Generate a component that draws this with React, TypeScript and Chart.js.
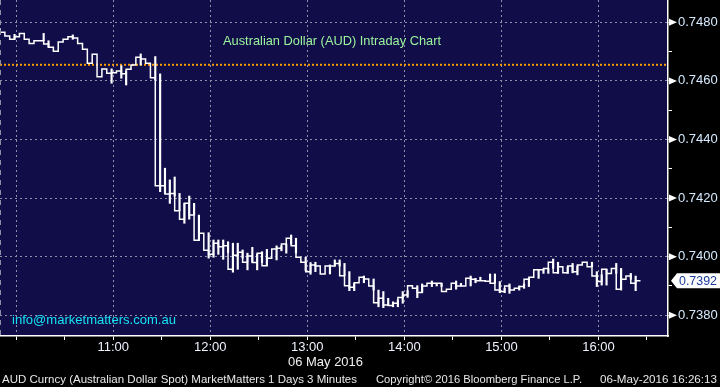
import React, { useEffect, useRef } from 'react';
import { Chart, registerables } from 'chart.js';

Chart.register(...registerables);

// ---- data ----
const firstBarMinute = 590; // 09:50, minutes since midnight
const barMinutes = 3;

const closes = [
  0.74780, 0.74766, 0.74753, 0.74742, 0.74751, 0.74762, 0.74742, 0.74728, 0.74737, 0.74737,
  0.74726, 0.74715, 0.74701, 0.74733, 0.74742, 0.74751, 0.74746, 0.74728, 0.74708, 0.74660,
  0.74691, 0.74614, 0.74641, 0.74626, 0.74628, 0.74634, 0.74624, 0.74640, 0.74654, 0.74681,
  0.74675, 0.74660, 0.74611, 0.74242, 0.74242, 0.74214, 0.74216, 0.74157, 0.74128, 0.74182,
  0.74142, 0.74056, 0.74080, 0.74022, 0.74008, 0.74046, 0.74034, 0.74037, 0.73957, 0.74005,
  0.74015, 0.73981, 0.74002, 0.73980, 0.74012, 0.73969, 0.73995, 0.74026, 0.74029, 0.74043,
  0.74063, 0.74037, 0.73998, 0.73981, 0.73949, 0.73972, 0.73968, 0.73941, 0.73968, 0.73968,
  0.73977, 0.73935, 0.73901, 0.73896, 0.73911, 0.73930, 0.73924, 0.73900, 0.73843, 0.73858,
  0.73835, 0.73833, 0.73841, 0.73861, 0.73869, 0.73901, 0.73892, 0.73878, 0.73900, 0.73909,
  0.73909, 0.73909, 0.73881, 0.73889, 0.73909, 0.73900, 0.73900, 0.73926, 0.73923, 0.73918,
  0.73918, 0.73916, 0.73909, 0.73886, 0.73881, 0.73900, 0.73886, 0.73892, 0.73898, 0.73923,
  0.73930, 0.73955, 0.73955, 0.73960, 0.73981, 0.73945, 0.73966, 0.73945, 0.73968, 0.73949,
  0.73972, 0.73981, 0.73966, 0.73934, 0.73915, 0.73957, 0.73943, 0.73960, 0.73889, 0.73923,
  0.73934, 0.73909, 0.73918,
];

const wickIndex = [
  3, 9, 10, 15, 23, 25, 26, 29, 32,
  33, 34, 35, 36, 37, 38, 39, 40, 41,
  43, 44, 45, 46, 47, 48, 49, 50, 51, 52, 53, 54, 55,
  57, 58, 59, 60, 61, 63, 64, 65,
  68, 69, 70, 71, 72, 73, 75, 77, 78, 79, 80, 81, 82, 83, 84,
  86, 87, 89, 90, 91, 94, 95, 97, 98, 99,
  101, 102, 103, 104, 105, 107, 108, 109,
  111, 112, 113, 114, 115, 117, 118, 119,
  122, 123, 124, 125, 127, 128, 130, 131,
];
const wickHigh = [
  0.74759, 0.74762, 0.74737, 0.74757, 0.74641, 0.74652, 0.74634, 0.74692, 0.74683,
  0.74624, 0.74302, 0.74262, 0.74272, 0.74216, 0.74182, 0.74207, 0.74182, 0.74142,
  0.74082, 0.74057, 0.74057, 0.74057, 0.74051, 0.74046, 0.74046, 0.74023, 0.74012, 0.74032, 0.74009, 0.74017, 0.74025,
  0.74037, 0.74037, 0.74043, 0.74074, 0.74063, 0.73998, 0.73980, 0.73981,
  0.73972, 0.73989, 0.73989, 0.73977, 0.73949, 0.73909, 0.73934, 0.73924, 0.73886, 0.73881, 0.73858, 0.73846, 0.73852, 0.73881, 0.73884,
  0.73901, 0.73907, 0.73917, 0.73909, 0.73909, 0.73917, 0.73909, 0.73934, 0.73926, 0.73930,
  0.73941, 0.73941, 0.73915, 0.73892, 0.73907, 0.73900, 0.73907, 0.73926,
  0.73957, 0.73957, 0.73960, 0.73992, 0.73981, 0.73966, 0.73977, 0.73968,
  0.73981, 0.73949, 0.73938, 0.73957, 0.73977, 0.73960, 0.73943, 0.73934,
];
const wickLow = [
  0.74742, 0.74737, 0.74715, 0.74742, 0.74592, 0.74609, 0.74586, 0.74654, 0.74603,
  0.74222, 0.74216, 0.74182, 0.74207, 0.74157, 0.74114, 0.74128, 0.74142, 0.74055,
  0.73995, 0.73998, 0.74008, 0.73991, 0.74014, 0.73947, 0.73957, 0.73995, 0.73955, 0.73981, 0.73955, 0.73980, 0.73969,
  0.73989, 0.74020, 0.74012, 0.74043, 0.74012, 0.73952, 0.73940, 0.73949,
  0.73941, 0.73968, 0.73968, 0.73935, 0.73884, 0.73884, 0.73911, 0.73886, 0.73829, 0.73826, 0.73835, 0.73829, 0.73829, 0.73841, 0.73861,
  0.73860, 0.73878, 0.73898, 0.73900, 0.73898, 0.73889, 0.73900, 0.73900, 0.73911, 0.73918,
  0.73916, 0.73909, 0.73877, 0.73877, 0.73875, 0.73886, 0.73892, 0.73898,
  0.73926, 0.73943, 0.73943, 0.73960, 0.73943, 0.73943, 0.73945, 0.73938,
  0.73966, 0.73898, 0.73903, 0.73903, 0.73943, 0.73886, 0.73923, 0.73884,
];

const refLevel = 0.74655;
const xMin = 590;
const xMax = 1003;
const yMin = 0.737293;
const yMax = 0.748761;

const titleText = 'Australian Dollar (AUD) Intraday Chart';
const emailText = 'info@marketmatters.com.au';
const dateText = '06 May 2016';
const footerLeft = 'AUD Curncy (Australian Dollar Spot) MarketMatters 1 Days 3 Minutes';
const footerMid = 'Copyright\u00A9 2016 Bloomberg Finance L.P.';
const footerRight = '06-May-2016 16:26:13';

const FONT = '"Liberation Sans", Arial, sans-serif';
const PLOT_BG = '#100d49';
const GRID = '#8e8ea6';

function fitText(
  ctx: CanvasRenderingContext2D,
  text: string,
  x: number,
  y: number,
  width: number,
  size: number,
  color: string
) {
  ctx.save();
  ctx.font = `${size}px ${FONT}`;
  ctx.fillStyle = color;
  ctx.textBaseline = 'middle';
  ctx.textAlign = 'left';
  const w = ctx.measureText(text).width || 1;
  ctx.translate(x, y);
  ctx.scale(width / w, 1);
  ctx.fillText(text, 0, 0);
  ctx.restore();
}

const decorPlugin = {
  id: 'decor',
  beforeDraw(chart: any) {
    const { ctx, chartArea } = chart;
    ctx.save();
    ctx.fillStyle = '#000000';
    ctx.fillRect(0, 0, chart.width, chart.height);
    ctx.fillStyle = PLOT_BG;
    ctx.fillRect(chartArea.left, chartArea.top, chartArea.right - chartArea.left, chartArea.bottom - chartArea.top);
    ctx.restore();
  },
  afterDraw(chart: any) {
    const { ctx, chartArea } = chart;
    const ys = chart.scales.y;
    ctx.save();
    // left plot edge dashed
    ctx.strokeStyle = GRID;
    ctx.lineWidth = 1;
    ctx.setLineDash([5, 5]);
    ctx.beginPath();
    ctx.moveTo(chartArea.left + 0.5, chartArea.top);
    ctx.lineTo(chartArea.left + 0.5, chartArea.bottom);
    ctx.stroke();
    ctx.setLineDash([]);

    // arrows at labelled y ticks
    ctx.fillStyle = '#ffffff';
    ys.ticks.forEach((t: any) => {
      if (Math.round(t.value * 1000) % 2 !== 0) return;
      const py = ys.getPixelForValue(t.value);
      ctx.beginPath();
      ctx.moveTo(chartArea.right + 1, py - 3.5);
      ctx.lineTo(chartArea.right + 9, py);
      ctx.lineTo(chartArea.right + 1, py + 3.5);
      ctx.closePath();
      ctx.fill();
    });

    // last price box
    const last = closes[closes.length - 1];
    const ly = ys.getPixelForValue(last);
    const bx = chartArea.right + 3;
    ctx.fillStyle = '#ffffff';
    ctx.beginPath();
    ctx.moveTo(bx, ly);
    ctx.lineTo(bx + 6, ly - 7.5);
    ctx.lineTo(720, ly - 7.5);
    ctx.lineTo(720, ly + 7.5);
    ctx.lineTo(bx + 6, ly + 7.5);
    ctx.closePath();
    ctx.fill();
    ctx.restore();
    fitText(ctx, last.toFixed(4), 679, ly + 0.5, 38, 13, '#1a3a9c');

    // texts
    fitText(ctx, titleText, 223, 41, 218, 13, '#9cf59c');
    fitText(ctx, emailText, 12, 320, 164, 13, '#14e4f4');
    fitText(ctx, dateText, 288, 362, 75, 13, '#f0f0f0');
    fitText(ctx, footerLeft, 2, 380, 355, 11, '#e8e8e8');
    fitText(ctx, footerMid, 376, 380, 206, 11, '#e8e8e8');
    fitText(ctx, footerRight, 600, 380, 117, 11, '#e8e8e8');
  },
};

function pad2(n: number) {
  return n < 10 ? '0' + n : '' + n;
}

export default function App() {
  const ref = useRef<HTMLCanvasElement | null>(null);

  useEffect(() => {
    if (!ref.current) return;
    const lineData = closes.map((c, i) => ({ x: firstBarMinute + i * barMinutes, y: c }));
    const wickData = wickIndex.map((idx, k) => ({
      x: firstBarMinute + idx * barMinutes,
      y: [wickLow[k], wickHigh[k]],
    }));

    const chart = new Chart(ref.current, {
      type: 'line',
      data: {
        datasets: [
          {
            type: 'line',
            data: [
              { x: xMin, y: refLevel },
              { x: xMax, y: refLevel },
            ],
            borderColor: '#ff9c00',
            borderWidth: 2,
            borderDash: [2, 2],
            pointRadius: 0,
            order: 3,
          } as any,
          {
            type: 'bar',
            data: wickData,
            backgroundColor: '#ffffff',
            borderWidth: 0,
            barThickness: 1.5,
            grouped: false,
            order: 2,
          } as any,
          {
            type: 'line',
            data: lineData,
            borderColor: '#ffffff',
            borderWidth: 1.5,
            stepped: 'after',
            pointRadius: 0,
            order: 1,
          } as any,
        ],
      },
      options: {
        animation: false,
        responsive: false,
        maintainAspectRatio: false,
        devicePixelRatio: 1,
        events: [],
        layout: { padding: 0 },
        plugins: { legend: { display: false }, tooltip: { enabled: false } },
        scales: {
          x: {
            type: 'linear',
            position: 'bottom',
            min: xMin,
            max: xMax,
            offset: false,
            afterFit: (s: any) => {
              s.height = 51;
              s.paddingLeft = 0;
              s.paddingRight = 0;
            },
            grid: {
              color: (c: any) => (c.tick && c.tick.value % 60 === 0 ? GRID : 'rgba(0,0,0,0)'),
              tickColor: '#ffffff',
              tickLength: 4,
              lineWidth: 1,
              offset: false,
            },
            border: { color: '#ffffff', width: 1.5, dash: [2, 3] },
            ticks: {
              stepSize: 30,
              autoSkip: false,
              maxRotation: 0,
              includeBounds: false,
              color: '#eef2ff',
              padding: 0,
              font: { family: FONT, size: 13 },
              callback: (v: any) => {
                const m = Number(v);
                if (m % 60 !== 0 || m <= 600) return '';
                return pad2(Math.floor(m / 60)) + ':00';
              },
            },
          },
          y: {
            type: 'linear',
            position: 'right',
            min: yMin,
            max: yMax,
            afterFit: (s: any) => {
              s.width = 52;
              s.paddingTop = 0;
              s.paddingBottom = 0;
            },
            grid: {
              color: (c: any) =>
                c.tick && Math.round(c.tick.value * 1000) % 2 === 0 ? GRID : 'rgba(0,0,0,0)',
              tickColor: '#ffffff',
              tickLength: 4,
              lineWidth: 1,
            },
            border: { color: '#ffffff', width: 1.5, dash: [2, 3] },
            ticks: {
              stepSize: 0.001,
              includeBounds: false,
              autoSkip: false,
              color: '#d6eaff',
              padding: 6,
              font: { family: FONT, size: 13 },
              callback: (v: any) => {
                const n = Number(v);
                return Math.round(n * 1000) % 2 === 0 ? n.toFixed(4) : '';
              },
            },
          },
        },
      } as any,
      plugins: [decorPlugin],
    });

    return () => chart.destroy();
  }, []);

  return (
    <div style={{ position: 'fixed', left: 0, top: 0, width: 720, height: 387, background: '#000' }}>
      <canvas ref={ref} width={720} height={387} style={{ width: 720, height: 387, display: 'block' }} />
    </div>
  );
}
